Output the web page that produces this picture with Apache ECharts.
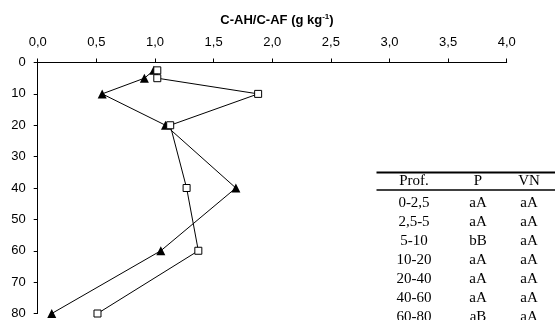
<!DOCTYPE html>
<html>
<head>
<meta charset="utf-8">
<script src="https://cdn.jsdelivr.net/npm/echarts@6/dist/echarts.min.js"></script>
<style>
html,body{margin:0;padding:0;background:#fff;}
#c{width:555px;height:320px;}
</style>
</head>
<body>
<div id="c"></div>
<script>
// Data
var depths = [2.5, 5, 10, 20, 40, 60, 80];
var seriesP = [1.02, 1.02, 1.88, 1.13, 1.27, 1.37, 0.51];   // open squares
var seriesVN = [0.99, 0.91, 0.55, 1.09, 1.69, 1.05, 0.12];  // filled triangles
var xTicks = [0, 0.5, 1, 1.5, 2, 2.5, 3, 3.5, 4];
var yTicks = [0, 10, 20, 30, 40, 50, 60, 70, 80];
var tableHeader = ['Prof.', 'P', 'VN'];
var profRows = ['0-2,5', '2,5-5', '5-10', '10-20', '20-40', '40-60', '60-80'];
var pRows = ['aA', 'aA', 'bB', 'aA', 'aA', 'aA', 'aB'];
var vnRows = ['aA', 'aA', 'aA', 'aA', 'aA', 'aA', 'aA'];

function pairs(xs, ys) { return xs.map(function (v, i) { return [v, ys[i]]; }); }

var sans = 'Liberation Sans, Arial, sans-serif';
var serif = 'Liberation Serif, Times New Roman, serif';

var colX = [414, 478, 529];
var headerY = 181.5;
var rowY0 = 203, rowH = 19;
var graphics = [
  { type: 'line', shape: { x1: 376.5, y1: 172.5, x2: 555, y2: 172.5 }, style: { stroke: '#000', lineWidth: 2 } },
  { type: 'line', shape: { x1: 376.5, y1: 190, x2: 555, y2: 190 }, style: { stroke: '#000', lineWidth: 1.5 } }
];
tableHeader.forEach(function (t, i) {
  graphics.push({ type: 'text', x: colX[i], y: headerY, style: { text: t, fill: '#000', font: '15px ' + serif, textAlign: 'center', textVerticalAlign: 'middle' } });
});
[profRows, pRows, vnRows].forEach(function (col, ci) {
  col.forEach(function (t, ri) {
    graphics.push({ type: 'text', x: colX[ci], y: rowY0 + ri * rowH, style: { text: t, fill: '#000', font: '15px ' + serif, textAlign: 'center', textVerticalAlign: 'middle' } });
  });
});

var chart = echarts.init(document.getElementById('c'), null, { renderer: 'canvas' });
chart.setOption({
  animation: false,
  backgroundColor: '#fff',
  title: {
    text: '{b|C-AH/C-AF (g kg}{s|-1}{b|)}',
    left: 272, top: 8, textAlign: 'center',
    textStyle: {
      rich: {
        b: { fontFamily: sans, fontWeight: 'bold', fontSize: 13, color: '#000' },
        s: { fontFamily: sans, fontWeight: 'bold', fontSize: 8, color: '#000', verticalAlign: 'top', padding: [0, 0, 7, 0] }
      }
    }
  },
  grid: { left: 37.7, right: 48.3, top: 62.5, bottom: 6, containLabel: false },
  xAxis: {
    type: 'value', position: 'top', min: 0, max: 4, interval: 0.5,
    axisLine: { show: true, onZero: false, lineStyle: { color: '#000', width: 1 } },
    axisTick: { show: true, inside: false, length: 4, lineStyle: { color: '#000' } },
    splitLine: { show: false },
    axisLabel: {
      margin: 14, color: '#000', fontFamily: sans, fontSize: 13,
      formatter: function (v) { return v.toFixed(1).replace('.', ','); }
    }
  },
  yAxis: {
    type: 'value', inverse: true, min: 0, max: 80, interval: 10,
    axisLine: { show: true, onZero: false, lineStyle: { color: '#000', width: 1 } },
    axisTick: { show: true, inside: false, length: 4, lineStyle: { color: '#000' } },
    splitLine: { show: false },
    axisLabel: { margin: 12, color: '#000', fontFamily: sans, fontSize: 13 }
  },
  series: [
    {
      name: 'P', type: 'line', data: pairs(seriesP, depths),
      symbol: 'rect', symbolSize: 7,
      lineStyle: { color: '#000', width: 1 },
      itemStyle: { color: '#fff', borderColor: '#000', borderWidth: 1 },
      z: 3
    },
    {
      name: 'VN', type: 'line', data: pairs(seriesVN, depths),
      symbol: 'triangle', symbolSize: 9,
      lineStyle: { color: '#000', width: 1 },
      itemStyle: { color: '#000', borderColor: '#000', borderWidth: 0 },
      z: 2
    }
  ],
  graphic: graphics
});
</script>
</body>
</html>
